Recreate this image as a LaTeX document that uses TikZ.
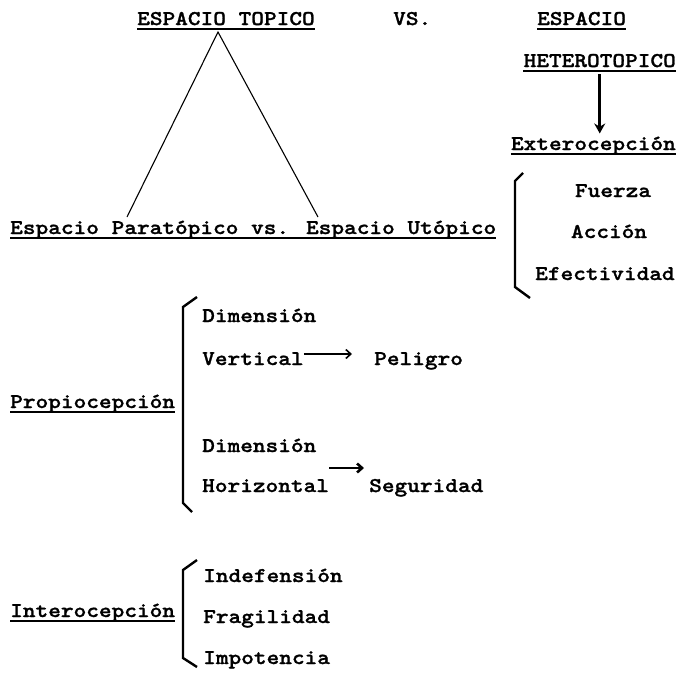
\documentclass[tikz,border=0pt]{standalone}
\usepackage{fontspec}
\newfontfamily\typew{lmmonolt10-bold.otf}[FakeStretch=1.15, FakeBold=1.2]
\usetikzlibrary{arrows.meta}

\tikzset{
  txt/.style={inner sep=0pt, anchor=base west},
  uline/.style={line width=1.8pt},
  brk/.style={line width=2.4pt, line join=miter},
  arr/.style={line width=1.6pt, -{Straight Barb[length=5pt,width=9pt]}},
  bigarr/.style={line width=3pt, -{Stealth[length=10pt,width=11pt]}},
}

\begin{document}
\begin{tikzpicture}[x=1pt, y=-1pt, font=\typew\fontsize{21}{25}\selectfont]
  \useasboundingbox (0,0) rectangle (682,672);

  % Headings
  \node[txt] (topico) at (137,25) {ESPACIO TOPICO};
  \node[txt] (vs) at (393,25) {VS.};
  \node[txt] (hetA) at (537,25) {ESPACIO};
  \node[txt, anchor=base east] (hetB) at (676,67) {HETEROTOPICO};
  \node[txt, anchor=base east] (extero) at (676,150) {Exterocepción};
  \node[txt] (parautop) at (10,234) {Espacio Paratópico vs. Espacio Utópico};

  % Triangle
  \coordinate (apex) at (218,32);
  \coordinate (lfoot) at (127,217);
  \coordinate (rfoot) at (318,217);
  \draw[line width=1.1pt] (lfoot) -- (apex) -- (rfoot);

  % Heterotopico to Exterocepcion
  \draw[bigarr, shorten <=7pt, shorten >=3pt] (hetB.south) -- (hetB.south |- extero.north);

  % Exterocepcion list
  \node[inner sep=0pt, anchor=base] (fuerza) at (613,197) {Fuerza};
  \node[inner sep=0pt, anchor=base] (accion) at (609,238) {Acción};
  \node[txt] (efect) at (535,280) {Efectividad};
  \draw[brk] (523,173) -- (515,181) -- (515,287) -- (530,298);

  % Propiocepcion
  \node[txt] (propio) at (10,408) {Propiocepción};
  \draw[brk] (197,297) -- (183,307) -- (183,503) -- (192,512);
  \node[txt] (dimA) at (202,322) {Dimensión};
  \node[txt] (vert) at (202,365) {Vertical};
  \node[txt] (peligro) at (374,365) {Peligro};
  \node[txt] (dimB) at (202,452) {Dimensión};
  \node[txt] (horiz) at (202,492) {Horizontal};
  \node[txt] (segur) at (369,492) {Seguridad};
  \draw[arr] ([yshift=11pt]vert.base east) -- ([yshift=11pt,xshift=-22pt]peligro.base west);
  \draw[arr, line width=2.6pt] ([yshift=24pt]horiz.base east) -- ([yshift=24pt,xshift=-5pt]segur.base west);

  % Interocepcion
  \node[txt] (intero) at (10,617) {Interocepción};
  \draw[brk] (197,560) -- (183,570) -- (183,658) -- (197,667);
  \node[txt] (indef) at (203,582) {Indefensión};
  \node[txt] (fragil) at (203,623) {Fragilidad};
  \node[txt] (impot) at (203,664) {Impotencia};

  % Underlines
  \foreach \n in {topico,hetA,hetB,extero,parautop,propio,intero}
    \draw[uline] ([yshift=-4pt]\n.base west) -- ([yshift=-4pt]\n.base east);
\end{tikzpicture}
\end{document}
